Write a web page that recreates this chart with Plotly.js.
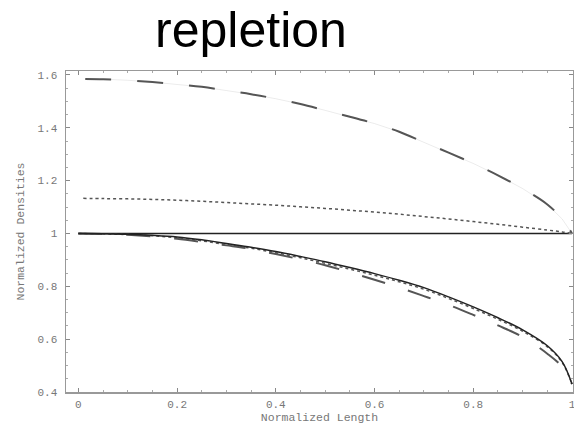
<!DOCTYPE html>
<html>
<head>
<meta charset="utf-8">
<script src="https://cdn.plot.ly/plotly-3.0.1.min.js"></script>
<style>html,body{margin:0;padding:0;background:#fff;}#chart{width:574px;height:428px;}</style>
</head>
<body>
<div id="chart"></div>
<script>
// Normalized length samples
const xs = [0, 0.05, 0.1, 0.15, 0.2, 0.25, 0.3, 0.35, 0.4, 0.45, 0.5, 0.55, 0.6, 0.65, 0.7, 0.75, 0.8, 0.85, 0.9, 0.95, 0.98, 1.0];
// Upper curves
const upperDashed = [1.585, 1.584, 1.580, 1.573, 1.565, 1.555, 1.541, 1.527, 1.510, 1.490, 1.466, 1.442, 1.416, 1.385, 1.345, 1.306, 1.265, 1.220, 1.170, 1.110, 1.055, 1.0];
const upperDotted = [1.133, 1.132, 1.131, 1.129, 1.126, 1.122, 1.117, 1.112, 1.107, 1.101, 1.095, 1.088, 1.081, 1.073, 1.064, 1.055, 1.045, 1.035, 1.024, 1.013, 1.006, 1.0];
const baseline = [1, 1, 1, 1, 1, 1, 1, 1, 1, 1, 1, 1, 1, 1, 1, 1, 1, 1, 1, 1, 1, 1];
// Lower curves
const lowerSolid = [1.0, 0.999, 0.997, 0.993, 0.987, 0.976, 0.962, 0.948, 0.932, 0.913, 0.893, 0.871, 0.848, 0.823, 0.795, 0.760, 0.722, 0.681, 0.635, 0.575, 0.515, 0.43];
const lowerDotted = [1.0, 0.998, 0.996, 0.991, 0.984, 0.972, 0.958, 0.944, 0.927, 0.908, 0.887, 0.865, 0.842, 0.817, 0.789, 0.754, 0.716, 0.675, 0.630, 0.571, 0.512, 0.43];
const lowerDashed = [1.0, 0.998, 0.995, 0.989, 0.980, 0.968, 0.955, 0.941, 0.922, 0.902, 0.880, 0.853, 0.825, 0.795, 0.763, 0.730, 0.692, 0.652, 0.608, 0.545, 0.495, 0.43];

const tickVals = [0, 0.2, 0.4, 0.6, 0.8, 1];
const yTickVals = [0.4, 0.6, 0.8, 1, 1.2, 1.4, 1.6];

const traces = [
  {x: xs, y: baseline, mode: 'lines', line: {color: '#222', width: 1.5}},
  {x: xs.slice(1), y: upperDashed.slice(1), mode: 'lines', line: {color: 'rgba(0,0,0,0.08)', width: 1}},
  {x: [0.014].concat(xs.slice(1)), y: upperDashed, mode: 'lines', line: {color: '#555', width: 2, dash: '26px,26px', shape: 'spline'}},
  {x: [0.01].concat(xs.slice(1)), y: upperDotted, mode: 'lines', line: {color: '#555', width: 1.5, dash: 'dot', shape: 'spline'}},
  {x: xs, y: lowerDashed, mode: 'lines', line: {color: '#555', width: 2, dash: '24px,24px', shape: 'spline'}},
  {x: xs, y: lowerDotted, mode: 'lines', line: {color: '#555', width: 1.5, dash: 'dot', shape: 'spline'}},
  {x: xs, y: lowerSolid, mode: 'lines', line: {color: '#222', width: 1.5, shape: 'spline'}}
];

const axFont = {family: 'Liberation Mono, Courier New, monospace', size: 11, color: '#777'};
const layout = {
  width: 574, height: 428,
  paper_bgcolor: '#fff', plot_bgcolor: '#fff',
  showlegend: false,
  margin: {l: 66, r: 1, t: 71, b: 36, pad: 0},
  title: {text: 'repletion', font: {family: 'Liberation Sans, Arial, sans-serif', size: 50, color: '#000'},
          x: 251/574, xref: 'container', xanchor: 'center', y: 0.93, yref: 'container', yanchor: 'middle'},
  xaxis: {
    range: [-0.025, 1.002], tickvals: tickVals, showgrid: false, zeroline: false,
    showline: true, linecolor: '#999', linewidth: 1.5, mirror: 'ticks',
    ticks: 'inside', ticklen: 4, tickcolor: '#888', tickwidth: 1,
    minor: {dtick: 0.05, ticks: 'inside', ticklen: 2, tickcolor: '#aaa', showgrid: false},
    tickfont: axFont, ticklabelstandoff: 1, ticklabeloverflow: 'allow',
    title: {text: 'Normalized Length', font: {family: 'Liberation Mono, Courier New, monospace', size: 11.5, color: '#777'}, standoff: 1}
  },
  yaxis: {
    range: [0.4, 1.615], tickvals: yTickVals, showgrid: false, zeroline: false,
    showline: true, linecolor: '#999', linewidth: 1.5, mirror: 'ticks',
    ticks: 'inside', ticklen: 4, tickcolor: '#888', tickwidth: 1,
    minor: {dtick: 0.05, ticks: 'inside', ticklen: 2, tickcolor: '#aaa', showgrid: false},
    tickfont: axFont, ticklabelstandoff: 5, ticklabeloverflow: 'allow',
    title: {text: 'Normalized Densities', font: {family: 'Liberation Mono, Courier New, monospace', size: 11.5, color: '#777'}, standoff: 10}
  }
};
Plotly.newPlot('chart', traces, layout, {displayModeBar: false, staticPlot: true});
</script>
</body>
</html>
